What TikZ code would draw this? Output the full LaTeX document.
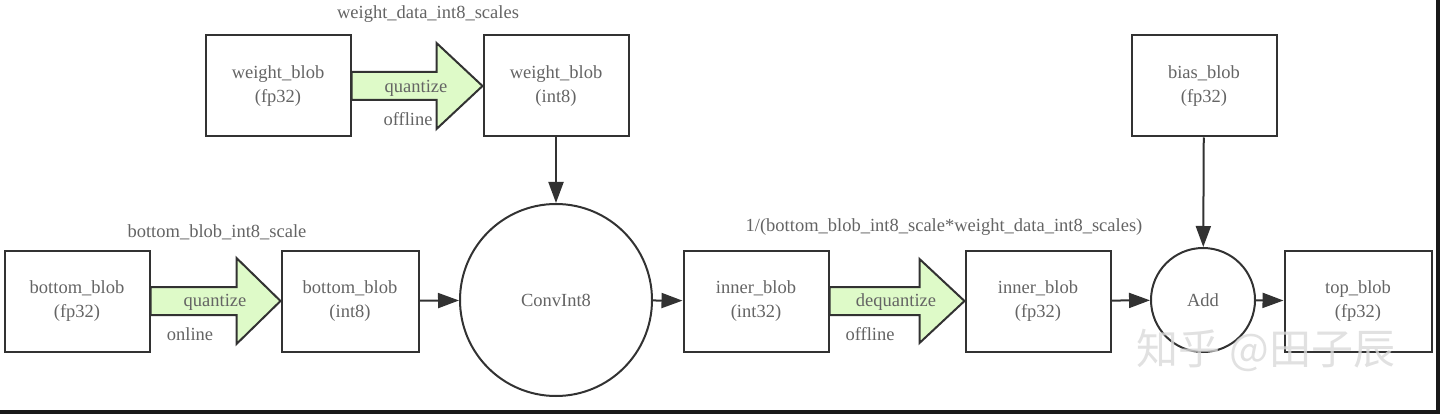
\documentclass[tikz,border=0pt]{standalone}
\usepackage{fontspec}
\setmainfont{Liberation Serif}
\newfontfamily\cjkfont{Noto Sans CJK SC}
\usetikzlibrary{arrows.meta}
\definecolor{linegray}{RGB}{50,50,50}
\definecolor{textgray}{RGB}{100,100,100}
\definecolor{fatgreen}{RGB}{222,250,200}
\begin{document}
\begin{tikzpicture}[
        x=1pt, y=-1pt,
        every node/.style={text=textgray, font=\fontsize{18.5}{24}\selectfont, align=center},
        blob/.style={draw=linegray, line width=2pt, minimum width=145pt, minimum height=101pt, inner sep=0pt},
        op/.style={draw=linegray, line width=2pt, circle, inner sep=0pt},
        flow/.style={draw=linegray, line width=2pt, -{Triangle[length=21pt,width=15pt]}},
        fat/.style={draw=linegray, line width=2pt, fill=fatgreen, line join=miter},
    ]
    \useasboundingbox (0,0) rectangle (1440,414);
    % blobs
    \node[blob](wf) at (278,86){weight\_blob\\(fp32)};
    \node[blob](wi) at (556,86){weight\_blob\\(int8)};
    \node[blob](bias) at (1204,86){bias\_blob\\(fp32)};
    \node[blob](bf) at (77,301){bottom\_blob\\(fp32)};
    \node[blob, minimum width=137pt](bi) at (350,301){bottom\_blob\\(int8)};
    \node[blob](inn) at (756,301){inner\_blob\\(int32)};
    \node[blob](inf) at (1038,301){inner\_blob\\(fp32)};
    \node[blob, minimum width=147pt](top) at (1358,301){top\_blob\\(fp32)};
    % operators
    \node[op, minimum size=192pt](conv) at (556,300){ConvInt8};
    \node[op, minimum size=104pt](add) at (1203,300){Add};
    % scale labels
    \node(wscale) at (428,14){weight\_data\_int8\_scales};
    \node(bscale) at (217,232){bottom\_blob\_int8\_scale};
    \node(dscale) at (944,227){1/(bottom\_blob\_int8\_scale*weight\_data\_int8\_scales)};
    % fat arrows
    \draw[fat] ([yshift=14pt]wf.east) -- ([xshift=-46pt,yshift=14pt]wi.west) -- ([xshift=-46pt,yshift=43pt]wi.west)
        -- (wi.west) -- ([xshift=-46pt,yshift=-43pt]wi.west) -- ([xshift=-46pt,yshift=-14pt]wi.west) -- ([yshift=-14pt]wf.east) -- cycle;
    \draw[fat] ([yshift=14pt]bf.east) -- ([xshift=-44pt,yshift=14pt]bi.west) -- ([xshift=-44pt,yshift=43pt]bi.west)
        -- (bi.west) -- ([xshift=-44pt,yshift=-43pt]bi.west) -- ([xshift=-44pt,yshift=-14pt]bi.west) -- ([yshift=-14pt]bf.east) -- cycle;
    \draw[fat] ([yshift=14pt]inn.east) -- ([xshift=-45pt,yshift=14pt]inf.west) -- ([xshift=-45pt,yshift=42pt]inf.west)
        -- (inf.west) -- ([xshift=-45pt,yshift=-42pt]inf.west) -- ([xshift=-45pt,yshift=-14pt]inf.west) -- ([yshift=-14pt]inn.east) -- cycle;
    \node(wq) at (416,88){quantize};
    \node(wo) at (408,119){offline};
    \node(bq) at (215,302){quantize};
    \node(bo) at (190,334){online};
    \node(dq) at (896,302){dequantize};
    \node(do) at (870,334){offline};
    % connectors
    \draw[flow] (wi) -- (conv);
    \draw[flow] (bi) -- (conv);
    \draw[flow] (conv) -- (inn);
    \draw[flow] (inf) -- (add);
    \draw[flow] (bias) -- (add);
    \draw[flow] (add) -- (top);
    % watermark and frame
    \node[text=gray!30, opacity=0.8, font=\cjkfont\fontsize{42}{42}\selectfont](mark) at (1266,350){知乎 @田子辰};
    \fill[black!90] (0,410) rectangle (1440,414);
    \fill[black!90] (1436,0) rectangle (1440,414);
\end{tikzpicture}
\end{document}
